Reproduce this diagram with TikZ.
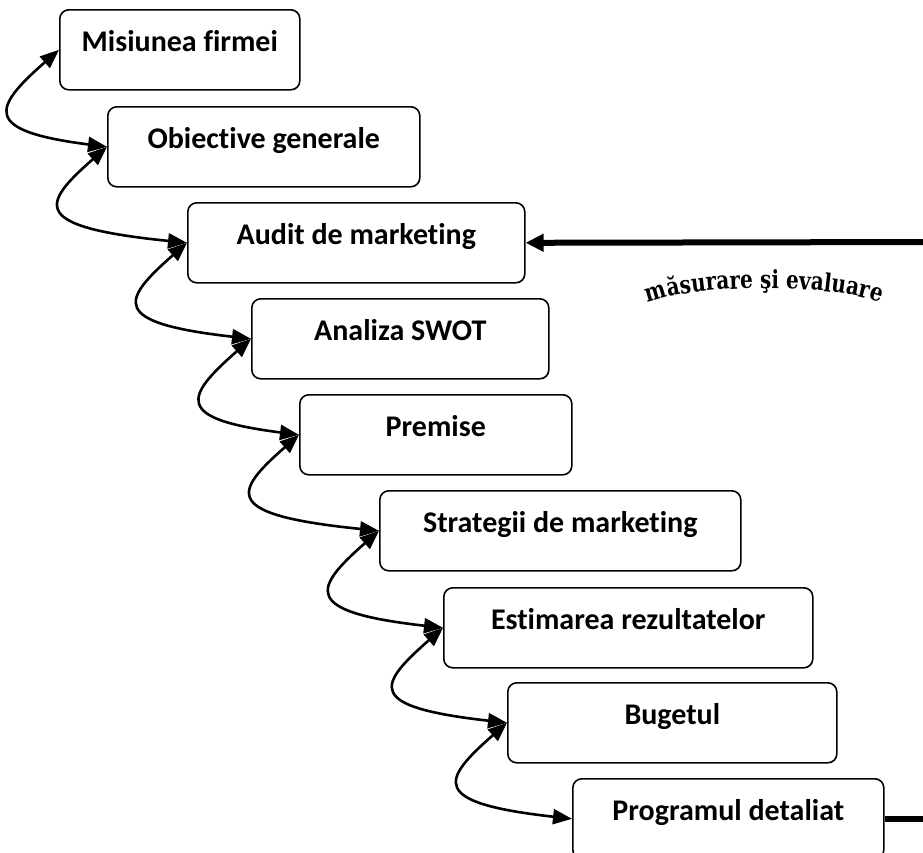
\documentclass[tikz,border=0pt]{standalone}
\usepackage{fontspec}
\setmainfont{Carlito}[Ligatures=NoCommon]
\newfontfamily\arcfont{DejaVu Serif}[FakeStretch=0.8]
\usetikzlibrary{arrows.meta,calc,decorations.text}
\begin{document}
\begin{tikzpicture}[x=1pt,y=1pt,
  stepbox/.style={draw, line width=1.6pt, rounded corners=9pt, anchor=north west,
    minimum height=80pt, inner xsep=0pt, inner ysep=0pt,
    text height=42pt, text depth=38pt,
    font=\fontsize{30}{30}\selectfont\bfseries},
  link/.style={line width=2.6pt,
    {Triangle[length=19pt,width=15pt]}-{Triangle[length=19pt,width=15pt]}},
  feedback/.style={line width=6pt}]
\useasboundingbox (0,0) rectangle (923,-852);
\clip (0,0) rectangle (923,-852);

\node[stepbox, minimum width=240pt] (b1) at (59,-9)   {Misiunea firmei};
\node[stepbox, minimum width=312pt] (b2) at (107,-106) {Obiective generale};
\node[stepbox, minimum width=337pt] (b3) at (187,-202) {Audit de marketing};
\node[stepbox, minimum width=297pt] (b4) at (251,-298) {Analiza SWOT};
\node[stepbox, minimum width=272pt] (b5) at (299,-394) {Premise};
\node[stepbox, minimum width=361pt] (b6) at (379,-490) {Strategii de marketing};
\node[stepbox, minimum width=369pt] (b7) at (443,-587) {Estimarea rezultatelor};
\node[stepbox, minimum width=329pt] (b8) at (507,-682) {Bugetul};
\node[stepbox, minimum width=311pt] (b9) at (572,-778) {Programul detaliat};

\foreach \a/\b in {b1/b2,b2/b3,b3/b4,b4/b5,b5/b6,b6/b7,b7/b8,b8/b9}{
  \draw[link] (\a.west) .. controls ($(\a.west)+(-66,-58)$)
     and ($(\a.west |- \b.west)+(-78,16)$) .. (\b.west);
}

\coordinate (r1) at (935,-242);
\coordinate (r2) at (935,-818);
\draw[feedback, -{Triangle[length=18pt,width=17pt]}] (r1) -- (b3.east);
\draw[feedback] (b9.east) -- (b9.east -| r2);

\coordinate (arcL) at (640,-307);
\coordinate (arcR) at (888,-307);
\path[decorate, decoration={text along path, text align=center,
  text={|\arcfont\bfseries\fontsize{25}{25}\selectfont|măsurare şi evaluare}}]
  (arcL) .. controls (680,-282) and (848,-282) .. (arcR);
\end{tikzpicture}
\end{document}
